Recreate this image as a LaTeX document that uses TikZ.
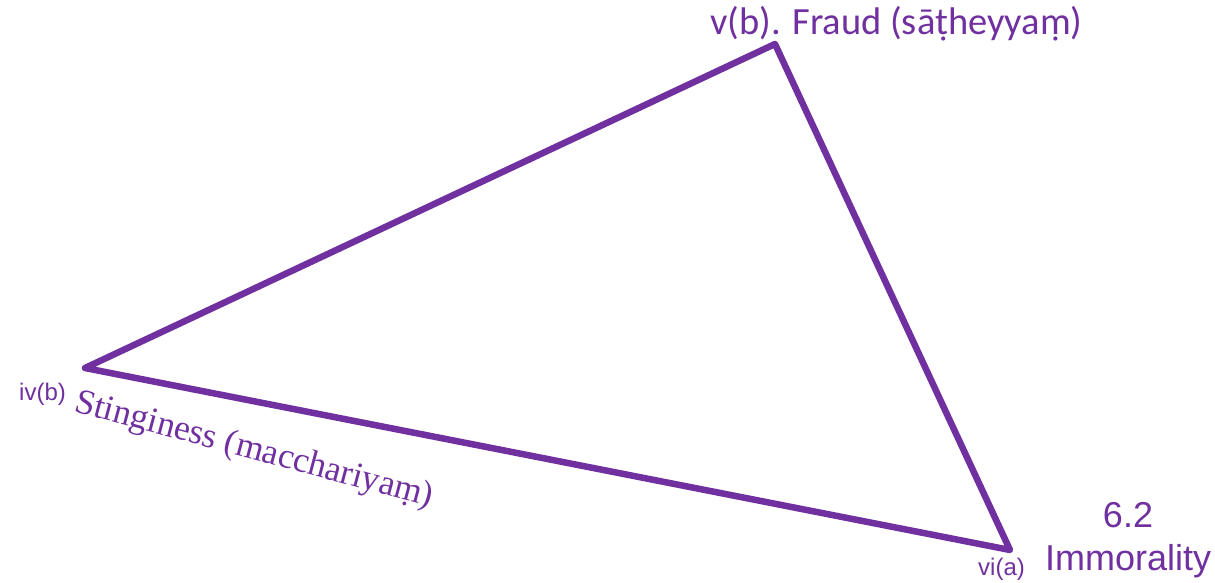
\documentclass[tikz,border=0pt]{standalone}
\usepackage{fontspec}
\setmainfont{Liberation Serif}
\newfontfamily\calib{Carlito}
\newfontfamily\arialf{Liberation Sans}
\definecolor{vio}{HTML}{7030A0}
\begin{document}
\begin{tikzpicture}[x=1pt,y=-1pt,
  lbl/.style={text=vio, inner sep=0pt, anchor=base west},
  edge/.style={draw=vio, line width=6.5pt, line join=round, line cap=round}]
\useasboundingbox (0,0) rectangle (1215,583);
\coordinate (top) at (775,44);
\coordinate (left) at (85,368);
\coordinate (right) at (1010,550);
\draw[edge] (top) -- (left) -- (right) -- cycle;
\node[lbl] (fraud) at (710,35) {\calib\fontsize{38.5}{44}\selectfont v(b). Fraud (sāṭheyyaṃ)};
\node[lbl] (ivb) at (19,400) {\arialf\fontsize{24}{28}\selectfont iv(b)};
\node[lbl, rotate=-15] (sting) at (73,411) {\fontsize{35.5}{40}\selectfont Stinginess (macchariyaṃ)};
\node[lbl] (via) at (978,575) {\arialf\fontsize{24}{28}\selectfont vi(a)};
\node[text=vio, inner sep=0pt, anchor=base] (num) at (1128,527) {\arialf\fontsize{36}{40}\selectfont 6.2};
\node[lbl] (imm) at (1045,570) {\arialf\fontsize{36}{40}\selectfont Immorality};
\end{tikzpicture}
\end{document}
